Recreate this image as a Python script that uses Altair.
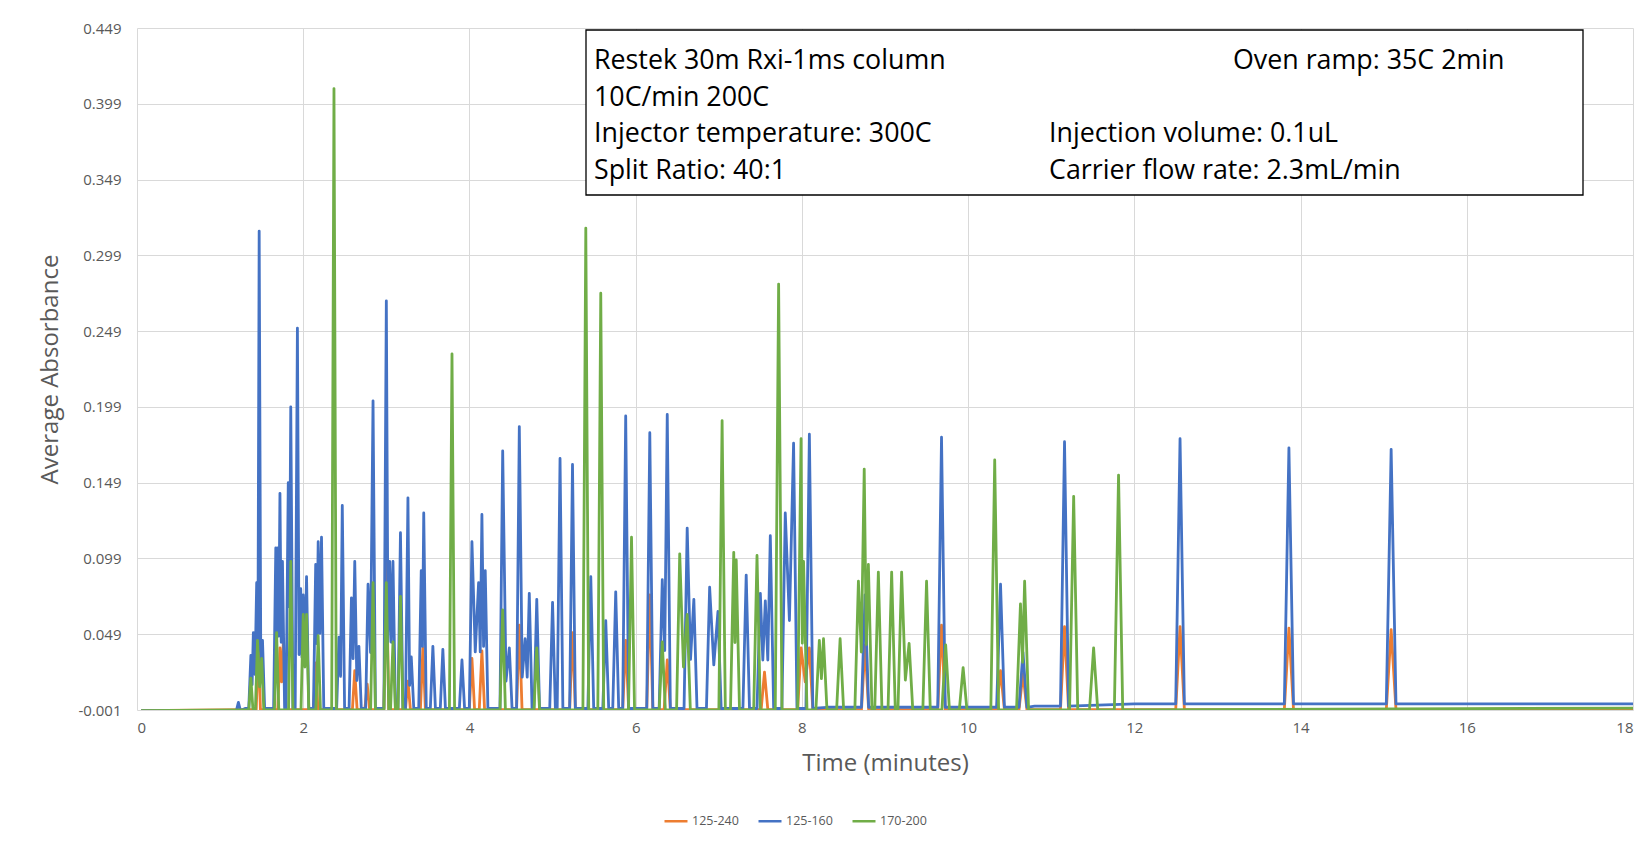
import altair as alt
import pandas as pd

# ---------------- data ----------------
series_names = ["125-240", "125-160", "170-200"]
series_colors = ["#ED7D31", "#4472C4", "#70AD47"]

x_ticks = [0, 2, 4, 6, 8, 10, 12, 14, 16, 18]
y_ticks = [-0.001, 0.049, 0.099, 0.149, 0.199, 0.249, 0.299, 0.349, 0.399, 0.449]

# peak apex times (min) and heights, per series
orange_t = [1.46, 1.72, 1.76, 2.15, 2.62, 2.77, 3.00, 3.26, 3.44, 4.03, 4.15, 4.60,
            5.24, 5.88, 6.17, 6.38, 7.55, 7.99, 8.09, 8.76, 9.68, 10.39, 10.66,
            11.16, 12.55, 13.86, 15.09]
orange_v = [0.042, 0.040, 0.043, 0.030, 0.025, 0.016, 0.097, 0.018, 0.040, 0.033, 0.038, 0.055,
            0.050, 0.045, 0.075, 0.032, 0.024, 0.040, 0.040, 0.042, 0.055, 0.025, 0.023,
            0.054, 0.054, 0.053, 0.052]

blue_t = [1.22, 1.37, 1.40, 1.44, 1.47, 1.51, 1.67, 1.69, 1.72, 1.75, 1.82, 1.85, 1.93,
          1.97, 2.00, 2.04, 2.15, 2.18, 2.22, 2.43, 2.47, 2.58, 2.62, 2.67, 2.78, 2.84,
          3.00, 3.04, 3.08, 3.17, 3.26, 3.30, 3.42, 3.45, 3.56, 3.68, 3.91, 4.03, 4.11,
          4.15, 4.19, 4.40, 4.48, 4.60, 4.67, 4.72, 4.81, 5.00, 5.09, 5.24, 5.46, 5.64,
          5.76, 5.88, 6.17, 6.32, 6.38, 6.62, 6.70, 6.89, 6.99, 7.33, 7.50, 7.56, 7.62,
          7.80, 7.90, 8.09, 8.76, 9.68, 10.39, 10.66, 11.16, 12.55, 13.86, 15.09]
blue_v = [0.004, 0.035, 0.050, 0.083, 0.315, 0.045, 0.106, 0.106, 0.142, 0.097, 0.149, 0.199, 0.251,
          0.079, 0.075, 0.087, 0.095, 0.110, 0.113, 0.047, 0.134, 0.073, 0.097, 0.041, 0.082, 0.203,
          0.269, 0.097, 0.097, 0.116, 0.139, 0.034, 0.091, 0.129, 0.041, 0.039, 0.032, 0.110, 0.083,
          0.128, 0.091, 0.170, 0.040, 0.186, 0.046, 0.076, 0.072, 0.070, 0.165, 0.161, 0.087, 0.058,
          0.077, 0.193, 0.182, 0.085, 0.194, 0.119, 0.072, 0.080, 0.064, 0.088, 0.076, 0.071, 0.114,
          0.129, 0.175, 0.181, 0.075, 0.179, 0.082, 0.037, 0.176, 0.178, 0.172, 0.171]

green_t = [1.37, 1.45, 1.50, 1.68, 1.85, 2.00, 2.04, 2.18, 2.37, 2.84, 3.00, 3.08, 3.17,
           3.79, 4.40, 4.81, 5.40, 5.58, 5.95, 6.32, 6.53, 6.62, 7.04, 7.18, 7.21, 7.46,
           7.72, 7.99, 8.02, 8.21, 8.26, 8.46, 8.68, 8.75, 8.80, 8.92, 9.08, 9.20, 9.29,
           9.50, 9.73, 9.94, 10.32, 10.63, 10.68, 11.27, 11.51, 11.81]
green_v = [0.020, 0.045, 0.033, 0.050, 0.097, 0.062, 0.062, 0.048, 0.409, 0.083, 0.083, 0.044, 0.074,
           0.234, 0.065, 0.040, 0.317, 0.274, 0.113, 0.044, 0.102, 0.062, 0.190, 0.103, 0.098, 0.101,
           0.280, 0.178, 0.097, 0.045, 0.046, 0.046, 0.084, 0.158, 0.095, 0.090, 0.090, 0.090, 0.043,
           0.084, 0.042, 0.027, 0.164, 0.069, 0.084, 0.140, 0.040, 0.154]

# baseline (between peaks) sample points per series
orange_base_t = [0.05, 1.30, 18.0]
orange_base_v = [-0.0015, -0.0008, 0.0000]
blue_base_t = [0.05, 1.15, 1.30, 8.30, 10.80, 12.00, 18.0]
blue_base_v = [-0.0015, -0.0015, 0.0000, 0.0008, 0.0015, 0.0030, 0.0030]
green_base_t = [0.05, 1.30, 18.0]
green_base_v = [-0.0015, -0.0010, 0.0003]

annotation_left = ["Restek 30m Rxi-1ms column", "10C/min 200C",
                   "Injector temperature: 300C", "Split Ratio: 40:1"]
annotation_right = ["Oven ramp: 35C 2min", "Injection volume: 0.1uL",
                    "Carrier flow rate: 2.3mL/min"]


# ---------------- build line tables ----------------
def halfwidth(t):
    return 0.022 + 0.0024 * t


def foot_level(t, bt, bv):
    lvl = bv[0]
    for a, b in zip(bt, bv):
        if a <= t:
            lvl = b
    return lvl


def build(name, pt, pv, bt, bv):
    rows = list(zip(bt, bv))
    peaks = sorted(zip(pt, pv))
    n = len(peaks)
    close = [peaks[i + 1][0] - peaks[i][0] < 2.6 * halfwidth(peaks[i][0]) for i in range(n - 1)]
    for i, (t, h) in enumerate(peaks):
        w = halfwidth(t)
        f = foot_level(t, bt, bv)
        rows.append((t, h))
        if i == 0 or not close[i - 1]:
            rows.append((t - w, f))
        if i == n - 1 or not close[i]:
            rows.append((t + w, f))
        else:
            tn, hn = peaks[i + 1]
            rows.append(((t + tn) / 2, f + 0.45 * (min(h, hn) - f)))
    df = pd.DataFrame(rows, columns=["t", "v"]).sort_values("t")
    df["series"] = name
    return df


data = pd.concat([
    build(series_names[0], orange_t, orange_v, orange_base_t, orange_base_v),
    build(series_names[1], blue_t, blue_v, blue_base_t, blue_base_v),
    build(series_names[2], green_t, green_v, green_base_t, green_base_v),
], ignore_index=True)

FONT = "Open Sans"
GREY = "#595959"

x_enc = alt.X("t:Q", scale=alt.Scale(domain=[0, 18], nice=False),
              axis=alt.Axis(values=x_ticks, format="d", title="Time (minutes)",
                            labelPadding=10, titleX=748, titleY=53,
                            titleAlign="center", titleBaseline="middle"))
y_enc = alt.Y("v:Q", scale=alt.Scale(domain=[-0.001, 0.449], nice=False, zero=False),
              axis=alt.Axis(values=y_ticks, title="Average Absorbance",
                            labelExpr="replace(format(datum.value, '.3f'), '\u2212', '-')",
                            labelPadding=16, titleX=-87, titleY=341,
                            titleAlign="center", titleBaseline="middle"))
c_enc = alt.Color("series:N", scale=alt.Scale(domain=series_names, range=series_colors),
                  legend=alt.Legend(title=None, orient="none", legendX=526, legendY=780,
                                    direction="horizontal", symbolType="stroke",
                                    symbolSize=529, symbolStrokeWidth=2.5,
                                    labelFont=FONT, labelFontSize=12.5, labelColor=GREY,
                                    labelOffset=3, columnPadding=14))

base = alt.Chart(data)
lines = [base.transform_filter(alt.datum.series == s)
         .mark_line(strokeWidth=2.8, clip=True, strokeJoin="round")
         .encode(x=x_enc, y=y_enc, color=c_enc, order="t:Q")
         for s in series_names]

one = pd.DataFrame({"k": [0]})
box = alt.Chart(one).mark_rect(fill="white", stroke="black", strokeWidth=1.3).encode(
    x=alt.value(449), x2=alt.value(1446), y=alt.value(2), y2=alt.value(167))

texts = []
left_y = [33, 70, 106, 143]
for s, yy in zip(annotation_left, left_y):
    texts.append(alt.Chart(pd.DataFrame({"label": [s]})).mark_text(
        align="left", baseline="middle", font=FONT, fontSize=26.8, color="black").encode(
        text="label:N", x=alt.value(457), y=alt.value(yy)))
right_pos = [(1096, 33), (912, 106), (912, 143)]
for s, (xx, yy) in zip(annotation_right, right_pos):
    texts.append(alt.Chart(pd.DataFrame({"label": [s]})).mark_text(
        align="left", baseline="middle", font=FONT, fontSize=26.8, color="black").encode(
        text="label:N", x=alt.value(xx), y=alt.value(yy)))

chart = alt.layer(*lines, box, *texts).properties(
    width=1496, height=682,
    padding={"left": 129, "top": 20, "right": 4, "bottom": 130},
    autosize=alt.AutoSizeParams(type="none"),
    background="white",
).configure_view(stroke=None).configure_axis(
    grid=True, gridColor="#d9d9d9", gridWidth=1, domain=False, ticks=False,
    labelFont=FONT, labelFontSize=15, labelColor=GREY,
    titleFont=FONT, titleFontSize=24, titleFontWeight="normal", titleColor=GREY,
)

chart.save("out.html", embed_options={"renderer": "svg", "actions": False})
